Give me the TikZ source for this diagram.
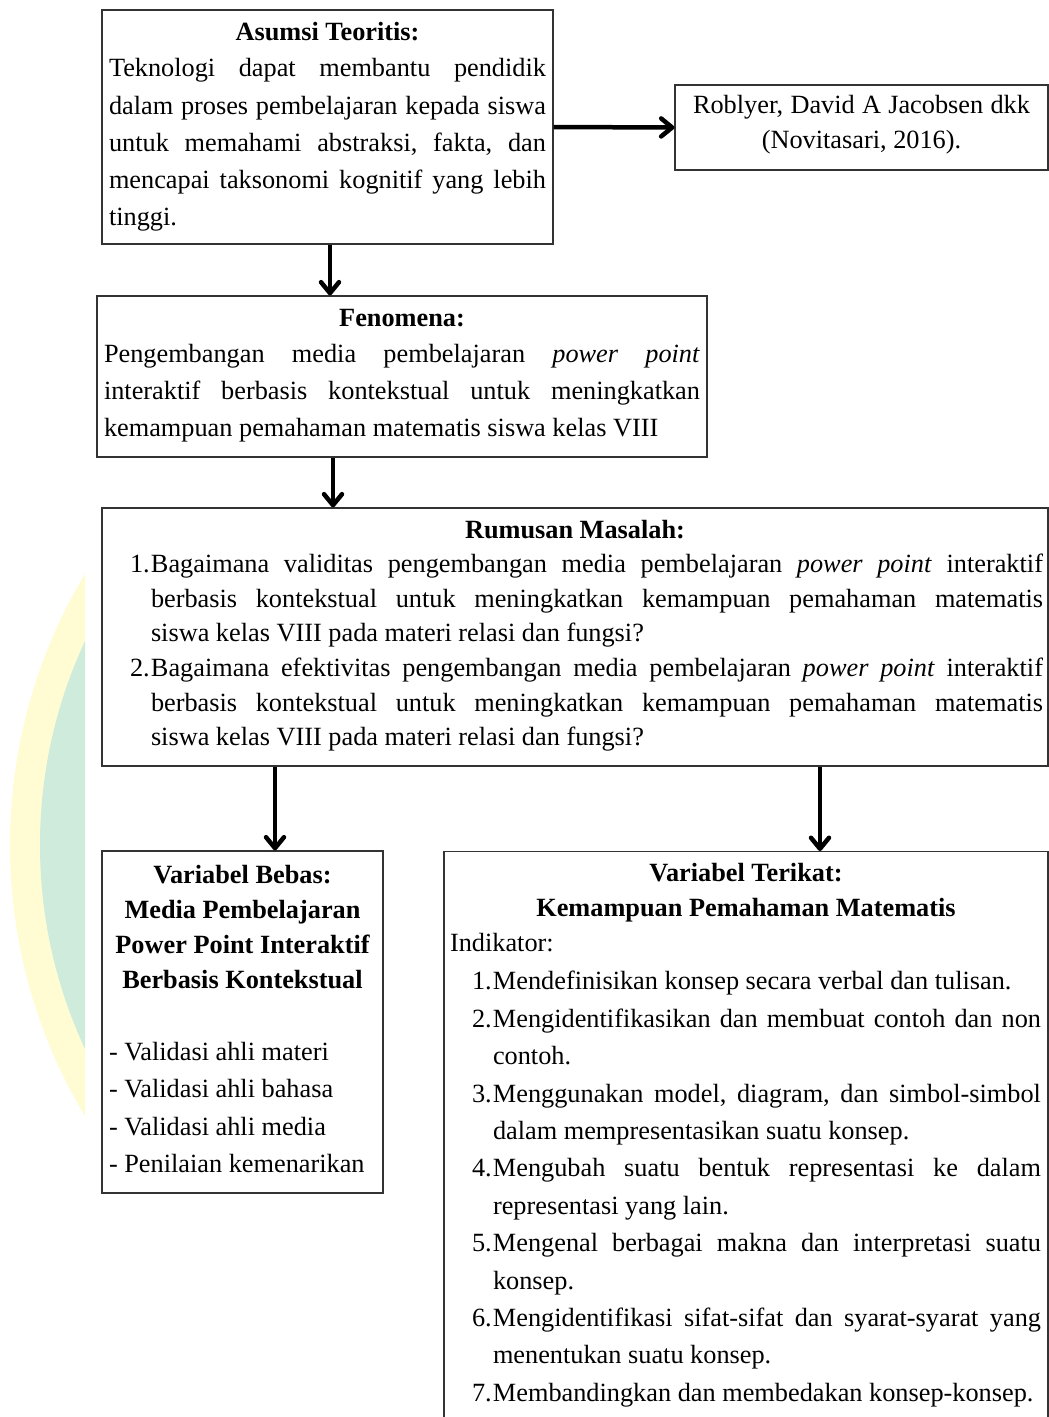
\documentclass[tikz,border=0pt]{standalone}
\usepackage{fontspec}
\setmainfont{Liberation Serif}
\usetikzlibrary{arrows.meta}
\definecolor{wmyellow}{RGB}{255,252,212}
\definecolor{wmgreen}{RGB}{206,235,220}
% one justified line of a given width
\newcommand{\fl}[2]{\makebox[#1][s]{\spaceskip=0pt\xspaceskip=0pt #2}}
\newcommand{\nr}[1]{\makebox[21pt][l]{#1}}
\newcommand{\lowstrut}[1]{\rule[-#1]{0pt}{#1}}
\begin{document}
\begin{tikzpicture}[x=1pt,y=-1pt,
    box/.style={draw=black!80,line width=1.2pt,inner ysep=0pt,inner xsep=7pt,align=left,
        font=\fontsize{26.3}{37.2}\selectfont,execute at begin node={\frenchspacing\spaceskip=0pt\xspaceskip=0pt}},
    arr/.style={line width=4.5pt,-{Straight Barb[length=11pt,width=18pt,round]}}]

% \draw[step=50,gray,very thin] (0,0) grid (1049,1417);
        \useasboundingbox (0,0) rectangle (1049,1417);
        \clip (0,0) rectangle (1049,1417);

        \begin{scope}
            \clip (0,0) rectangle (85,1417);
            \fill[wmyellow] (537,845) circle (527pt);
            \fill[wmgreen] (523,845) circle (483pt);
        \end{scope}

        \node (asumsi_box) [box,text width=437pt,minimum height=234pt] at (327.5,127)
            {\makebox[437pt]{\bfseries Asumsi Teoritis:}\\[-1pt]
            \fl{437pt}{Teknologi dapat membantu pendidik}\\
            \fl{437pt}{dalam proses pembelajaran kepada siswa}\\
            \fl{437pt}{untuk memahami abstraksi, fakta, dan}\\
            \fl{437pt}{mencapai taksonomi kognitif yang lebih}\\
            tinggi.};
        \node (roblyer_box) [box,text width=359pt,minimum height=85pt,align=center,font=\fontsize{26.3}{35}\selectfont] at (861.5,127.5)
            {Roblyer, David A Jacobsen dkk\\(Novitasari,\kern.25em2016).\lowstrut{11pt}};
        \node (fenomena_box) [box,text width=596pt,minimum height=161pt,font=\fontsize{26.3}{37}\selectfont] at (402,376.5)
            {\makebox[596pt]{\bfseries Fenomena:}\\[-1pt]
            \fl{596pt}{Pengembangan media pembelajaran \textit{power point}}\\
            \fl{596pt}{interaktif berbasis kontekstual untuk meningkatkan}\\
            kemampuan pemahaman matematis siswa kelas VIII\lowstrut{8pt}};
        \node (rumusan_box) [box,inner xsep=5pt,text width=936pt,minimum height=258pt,font=\fontsize{26.3}{34.6}\selectfont] at (575,637)
            {\makebox[936pt]{\bfseries Rumusan Masalah:}\\
            \hspace*{23pt}\nr{1.}\fl{892pt}{Bagaimana validitas pengembangan media pembelajaran \textit{power point} interaktif}\\
            \hspace*{44pt}\fl{892pt}{berbasis kontekstual untuk meningkatkan kemampuan pemahaman matematis}\\
            \hspace*{44pt}siswa kelas VIII pada materi relasi dan fungsi?\\
            \hspace*{23pt}\nr{2.}\fl{892pt}{Bagaimana efektivitas pengembangan media pembelajaran \textit{power point} interaktif}\\
            \hspace*{44pt}\fl{892pt}{berbasis kontekstual untuk meningkatkan kemampuan pemahaman matematis}\\
            \hspace*{44pt}siswa kelas VIII pada materi relasi dan fungsi?\lowstrut{8.5pt}};
        \node (bebas_box) [box,text width=267pt,minimum height=342pt,font=\fontsize{26.3}{35}\selectfont] at (242.5,1022)
            {\makebox[267pt]{\bfseries Variabel Bebas:}\\
            \makebox[267pt]{\bfseries Media Pembelajaran}\\
            \makebox[267pt]{\bfseries Power Point Interaktif}\\
            \makebox[267pt]{\bfseries Berbasis Kontekstual}\\[37pt]
            - Validasi ahli materi\\[2.3pt]
            - Validasi ahli bahasa\\[2.3pt]
            - Validasi ahli media\\[2.3pt]
            - Penilaian kemenarikan\lowstrut{6pt}};
        \node (terikat_box) [box,anchor=north,inner xsep=6pt,inner ysep=12pt,text width=592pt,font=\fontsize{26.3}{37.4}\selectfont] at (746,851)
            {\makebox[592pt]{\bfseries Variabel Terikat:}\\[-2.4pt]
            \makebox[592pt]{\bfseries Kemampuan Pemahaman Matematis}\\[-2.4pt]
            Indikator:\\[0.6pt]
            \hspace*{22pt}\nr{1.}Mendefinisikan konsep secara verbal dan tulisan.\\
            \hspace*{22pt}\nr{2.}\fl{548pt}{Mengidentifikasikan dan membuat contoh dan non}\\
            \hspace*{43pt}contoh.\\
            \hspace*{22pt}\nr{3.}\fl{548pt}{Menggunakan model, diagram, dan simbol-simbol}\\
            \hspace*{43pt}dalam mempresentasikan suatu konsep.\\
            \hspace*{22pt}\nr{4.}\fl{548pt}{Mengubah suatu bentuk representasi ke dalam}\\
            \hspace*{43pt}representasi yang lain.\\
            \hspace*{22pt}\nr{5.}\fl{548pt}{Mengenal berbagai makna dan interpretasi suatu}\\
            \hspace*{43pt}konsep.\\
            \hspace*{22pt}\nr{6.}\fl{548pt}{Mengidentifikasi sifat-sifat dan syarat-syarat yang}\\
            \hspace*{43pt}menentukan suatu konsep.\\
            \hspace*{22pt}\nr{7.}Membandingkan dan membedakan konsep-konsep.};

        \draw [arr] (asumsi_box.east) -- (roblyer_box.west);
        \draw [arr] ([xshift=2.5pt]asumsi_box.south) -- ([xshift=2.5pt]asumsi_box.south |- fenomena_box.north);
        \draw [arr] ([xshift=-69pt]fenomena_box.south) -- ([xshift=-69pt]fenomena_box.south |- rumusan_box.north);
        \draw [arr] ([xshift=32.5pt]bebas_box.north |- rumusan_box.south) -- ([xshift=32.5pt]bebas_box.north);
        \draw [arr] ([xshift=74pt]terikat_box.north |- rumusan_box.south) -- ([xshift=74pt]terikat_box.north);

    \end{tikzpicture}
\end{document}
